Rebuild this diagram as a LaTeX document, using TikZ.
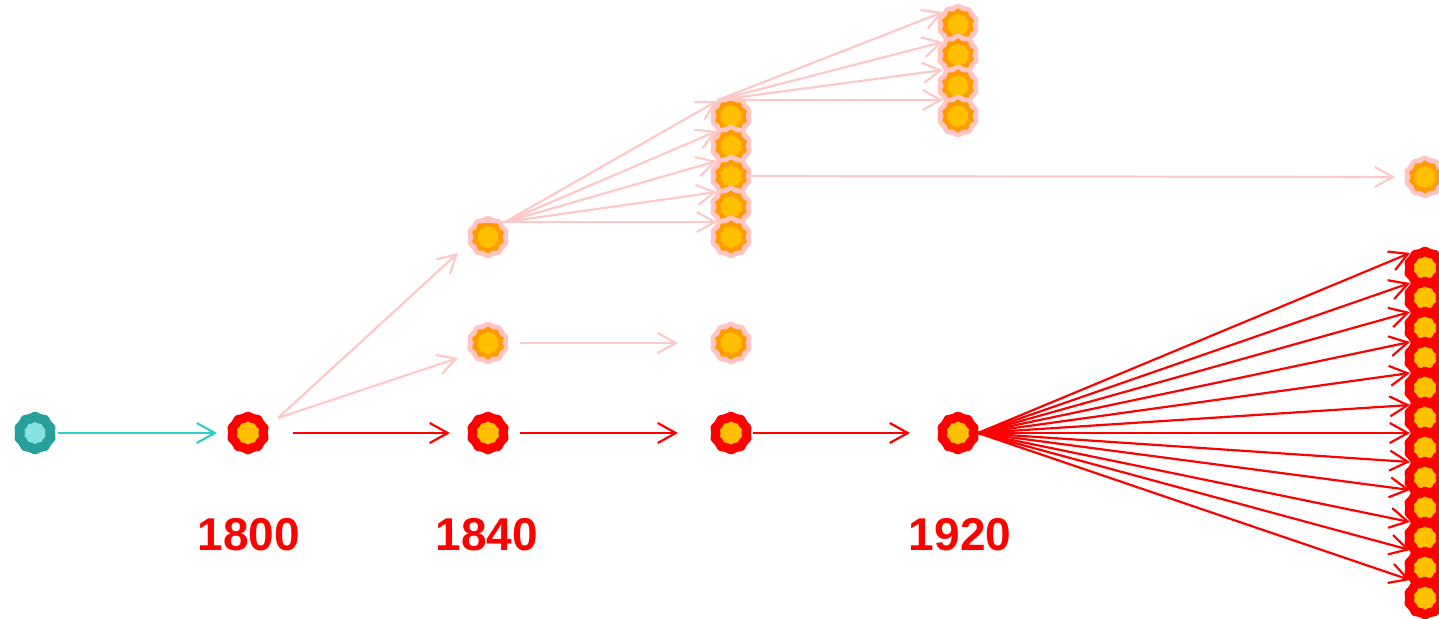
\documentclass[tikz,border=0pt]{standalone}
\usepackage{fontspec}
\setmainfont{Liberation Sans}
\usetikzlibrary{shapes.geometric,arrows.meta}

\definecolor{budred}{HTML}{FF0000}
\definecolor{budyellow}{HTML}{FFC000}
\definecolor{budorange}{HTML}{FF9A00}
\definecolor{budpink}{HTML}{FFC4C4}
\definecolor{tealdark}{HTML}{27A09C}
\definecolor{teallight}{HTML}{86E2DF}
\definecolor{tealline}{HTML}{33CCCC}
\definecolor{paleline}{HTML}{FFC8C8}

\tikzstyle{core} = [star, star points=10, star point ratio=1.1, inner sep=0pt, draw=none]
\tikzstyle{bud} = [star, star points=10, star point ratio=1.12, minimum size=44pt, inner sep=0pt, rounded corners=2.5pt]
\tikzstyle{redbud} = [bud, fill=budred, label={[core, fill=budyellow, minimum size=23pt]center:}]
\tikzstyle{palebud} = [bud, fill=budpink, label={[core, fill=budorange, minimum size=34pt, star point ratio=1.2, rounded corners=1pt]center:}, label={[core, fill=budyellow, minimum size=22pt]center:}]
\tikzstyle{tealbud} = [bud, fill=tealdark, label={[core, fill=teallight, minimum size=22pt]center:}]
\tikzstyle{link} = [-{Straight Barb[length=18pt,width=20pt]}, line width=2.2pt]
\tikzstyle{year} = [text=budred, font=\fontsize{46}{46}\selectfont\bfseries, inner sep=0pt]

\begin{document}
\begin{tikzpicture}[x=1pt,y=-1pt]
      \useasboundingbox (0,0) rectangle (1439,618);

      \node[tealbud] (t0) at (35,433) {};
      \node[redbud] (r1800) at (248,433) {};
      \node[redbud] (r1840) at (488,433) {};
      \node[redbud] (r1880) at (731,433) {};
      \node[redbud] (r1920) at (958,433) {};

      \node[palebud] (p1840a) at (488,343) {};
      \node[palebud] (p1880a) at (731,343) {};
      \node[palebud] (p1840b) at (488,237) {};

      \node[palebud] (c1) at (731,116) {};
      \node[palebud] (c2) at (731,146) {};
      \node[palebud] (c3) at (731,176) {};
      \node[palebud] (c4) at (731,207) {};
      \node[palebud] (c5) at (731,237) {};

      \node[palebud] (d1) at (958,25) {};
      \node[palebud] (d2) at (958,55) {};
      \node[palebud] (d3) at (958,86) {};
      \node[palebud] (d4) at (958,116) {};

      \node[palebud] (e) at (1425,177) {};

      \node[redbud] (f1) at (1425,268) {};
      \node[redbud] (f2) at (1425,298) {};
      \node[redbud] (f3) at (1425,328) {};
      \node[redbud] (f4) at (1425,358) {};
      \node[redbud] (f5) at (1425,388) {};
      \node[redbud] (f6) at (1425,418) {};
      \node[redbud] (f7) at (1425,448) {};
      \node[redbud] (f8) at (1425,478) {};
      \node[redbud] (f9) at (1425,508) {};
      \node[redbud] (f10) at (1425,538) {};
      \node[redbud] (f11) at (1425,568) {};
      \node[redbud] (f12) at (1425,598) {};

      \node[year] (y1800) at (249,535) {1800};
      \node[year] (y1840) at (487,535) {1840};
      \node[year] (y1920) at (960,535) {1920};

      % main line
      \draw[link, tealline] ([shift={(23,0)}]t0.center) -- ([shift={(-31,0)}]r1800.center);
      \draw[link, budred] ([shift={(45,0)}]r1800.center) -- ([shift={(-38,0)}]r1840.center);
      \draw[link, budred] ([shift={(32,0)}]r1840.center) -- ([shift={(-53,0)}]r1880.center);
      \draw[link, budred] ([shift={(22,0)}]r1880.center) -- ([shift={(-48,0)}]r1920.center);

      % pale branches
      \draw[link, paleline] ([shift={(30,-15)}]r1800.center) -- ([shift={(-30,16)}]p1840b.center);
      \draw[link, paleline] ([shift={(30,-15)}]r1800.center) -- ([shift={(-30,15)}]p1840a.center);
      \draw[link, paleline] ([shift={(32,0)}]p1840a.center) -- ([shift={(-53,0)}]p1880a.center);

      \draw[link, paleline] ([shift={(17,-15)}]p1840b.center) -- ([shift={(-14,-15)}]c1.center);
      \draw[link, paleline] ([shift={(17,-15)}]p1840b.center) -- ([shift={(-14,-15)}]c2.center);
      \draw[link, paleline] ([shift={(17,-15)}]p1840b.center) -- ([shift={(-14,-15)}]c3.center);
      \draw[link, paleline] ([shift={(17,-15)}]p1840b.center) -- ([shift={(-14,-15)}]c4.center);
      \draw[link, paleline] ([shift={(-13,-15)}]p1840b.center) -- ([shift={(-14,-15)}]c5.center);

      \draw[link, paleline] ([shift={(-13,-16)}]c1.center) -- ([shift={(-15,-13)}]d1.center);
      \draw[link, paleline] ([shift={(-13,-16)}]c1.center) -- ([shift={(-15,-13)}]d2.center);
      \draw[link, paleline] ([shift={(-13,-16)}]c1.center) -- ([shift={(-15,-16)}]d3.center);
      \draw[link, paleline] ([shift={(-13,-16)}]c1.center) -- ([shift={(-15,-16)}]d4.center);

      \draw[link, paleline] ([shift={(17,0)}]c3.center) -- ([shift={(-30,0)}]e.center);

      % fan from 1920
      \draw[link, budred] ([shift={(20,0)}]r1920.center) -- ([shift={(-15,-15)}]f1.center);
      \draw[link, budred] ([shift={(20,0)}]r1920.center) -- ([shift={(-15,-15)}]f2.center);
      \draw[link, budred] ([shift={(20,0)}]r1920.center) -- ([shift={(-15,-16)}]f3.center);
      \draw[link, budred] ([shift={(20,0)}]r1920.center) -- ([shift={(-15,-16)}]f4.center);
      \draw[link, budred] ([shift={(20,0)}]r1920.center) -- ([shift={(-15,-15)}]f5.center);
      \draw[link, budred] ([shift={(20,0)}]r1920.center) -- ([shift={(-15,-13)}]f6.center);
      \draw[link, budred] ([shift={(20,0)}]r1920.center) -- ([shift={(-15,-15)}]f7.center);
      \draw[link, budred] ([shift={(20,0)}]r1920.center) -- ([shift={(-15,-16)}]f8.center);
      \draw[link, budred] ([shift={(20,0)}]r1920.center) -- ([shift={(-15,-18)}]f9.center);
      \draw[link, budred] ([shift={(20,0)}]r1920.center) -- ([shift={(-15,-16)}]f10.center);
      \draw[link, budred] ([shift={(20,0)}]r1920.center) -- ([shift={(-15,-18)}]f11.center);
      \draw[link, budred] ([shift={(20,0)}]r1920.center) -- ([shift={(-15,-18)}]f12.center);
    \end{tikzpicture}
\end{document}
